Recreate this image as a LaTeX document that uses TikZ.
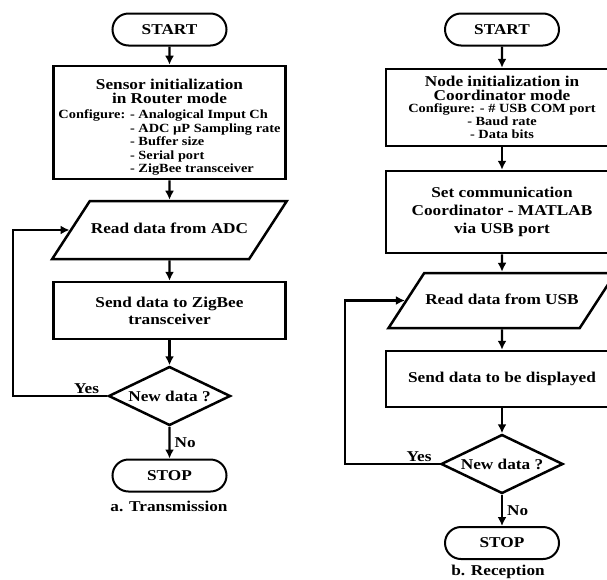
\documentclass[tikz,border=0pt]{standalone}
\usepackage{fontspec}
\setmainfont{Liberation Serif}[FakeStretch=1.15]
\usetikzlibrary{arrows.meta,shapes.geometric,shapes.misc,positioning}
\tikzset{>={Latex[width=9pt,length=9pt]}}
\tikzset{every node/.style={font=\bfseries\fontsize{15}{14}\selectfont}}
\tikzset{term/.style={draw, rounded rectangle, line width=2pt,
    minimum width=114, minimum height=32, inner sep=0pt}}
\tikzset{proc/.style={draw, rectangle, line width=2.5pt, minimum width=232,
    align=center, inner sep=2pt}}
\tikzset{io/.style={draw, trapezium, trapezium left angle=57,
    trapezium right angle=123, line width=2.5pt, text height=10pt,
    text depth=3pt, inner xsep=1pt, inner ysep=22.5pt}}
\tikzset{decision/.style={draw, diamond, aspect=2, line width=2.5pt,
    minimum width=122, minimum height=59, inner sep=0pt}}
\tikzset{flow/.style={->, line width=2.2pt}}
\tikzset{lbl/.style={inner sep=1pt}}
\newcommand{\cfgsize}{\fontsize{12.5}{13.5}\selectfont}

\begin{document}
\begin{tikzpicture}[x=1pt, y=1pt]
    \useasboundingbox (0,0) rectangle (607,-579);
    \clip (0,0) rectangle (607,-579);
    % a. transmission
    \begin{scope}
      \node[term] (start1) at (169.5,-29.5) {START};
      \node[proc, minimum height=109] (init1) at (169.5,-122.5)
        {\rule{0pt}{22pt}Sensor initialization\\in Router mode\\[1pt]
        {\cfgsize\begin{tabular}[t]{@{}l@{ }l@{}}
          Configure: & - Analogical Imput Ch\\
                     & - ADC µP Sampling rate\\
                     & - Buffer size\\
                     & - Serial port\\
                     & - ZigBee transceiver
        \end{tabular}}};
      \node[io] (read1) at (169.5,-230) {Read data from ADC};
      \node[proc, minimum height=57, font=\bfseries\fontsize{15}{17}\selectfont]
        (send1) at (169.5,-310.5) {Send data to ZigBee\\transceiver};
      \node[decision] (dec1) at (169.5,-396) {New data ?};
      \node[term] (stop1) at (169.5,-475.5) {STOP};
      \node (cap1) at (169,-506) {a. Transmission};
      \coordinate (loop1) at (13,0);
      \foreach \a/\b in {start1/init1, init1/read1, read1/send1, send1/dec1}
      \draw[flow] (\a) -- (\b);
      \draw[flow] (dec1) -- node[lbl, right=3pt] (no1) {No} (stop1);
      \node[lbl, above left=1pt and 7pt of dec1.west] (yes1) {Yes};
      \draw[flow] (dec1.west) -- (dec1.west -| loop1) |- (read1.left side);
    \end{scope}
    % b. reception
    \begin{scope}
      \node[term] (start2) at (502,-29.5) {START};
      \node[proc, minimum height=77, font=\bfseries\fontsize{15}{14}\selectfont]
        (init2) at (502,-107.5)
        {\rule{0pt}{13pt}Node initialization in\\Coordinator mode\\[-2pt]
        {\fontsize{12.5}{13}\selectfont\begin{tabular}[t]{@{}c@{}}
          Configure: - \# USB COM port\\
          - Baud rate\\
          - Data bits
        \end{tabular}}};
      \node[proc, minimum height=82, font=\bfseries\fontsize{15}{18}\selectfont]
        (set2) at (502,-212) {Set communication\\Coordinator - MATLAB\\via USB port};
      \node[io, inner ysep=21pt] (read2) at (502,-300.5) {Read data from USB};
      \node[proc, minimum height=56] (send2) at (502,-379) {Send data to be displayed};
      \node[decision] (dec2) at (502,-464) {New data ?};
      \node[term] (stop2) at (502,-543) {STOP};
      \node (cap2) at (498,-572) {b. Reception};
      \coordinate (loop2) at (345,0);
      \foreach \a/\b in {start2/init2, init2/set2, set2/read2, read2/send2, send2/dec2}
      \draw[flow] (\a) -- (\b);
      \draw[flow] (dec2) -- node[lbl, right=3pt] (no2) {No} (stop2);
      \node[lbl, above left=1pt and 7pt of dec2.west] (yes2) {Yes};
      \draw[flow] (dec2.west) -- (dec2.west -| loop2) |- (read2.left side);
    \end{scope}
  \end{tikzpicture}
\end{document}
